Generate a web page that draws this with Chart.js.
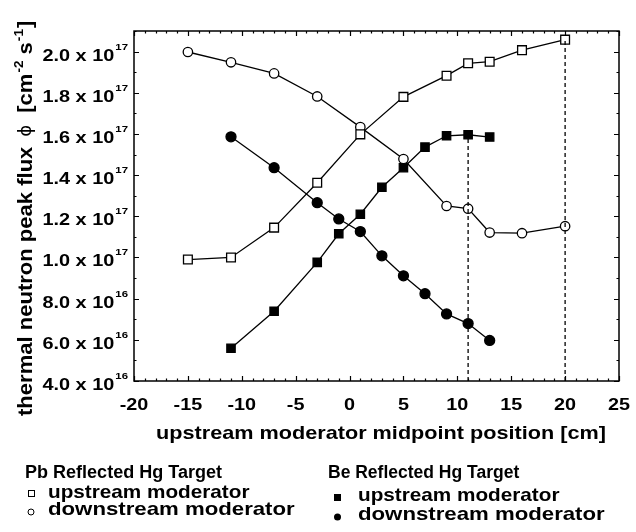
<!DOCTYPE html>
<html>
<head>
<meta charset="utf-8">
<title>thermal neutron peak flux</title>
<script src="https://cdn.jsdelivr.net/npm/chart.js@4.4.1/dist/chart.umd.min.js"></script>
<style>
  body { margin: 0; background: #fff; }
  #wrap { width: 636px; height: 532px; }
</style>
</head>
<body>
<div id="wrap"><canvas id="fluxChart" width="636" height="532"></canvas></div>
<script>
// upstream moderator midpoint position [cm]
const pbPositions = [-15, -11, -7, -3, 1, 5, 9, 11, 13, 16, 20];
const bePositions = [-11, -7, -3, -1, 1, 3, 5, 7, 9, 11, 13];

// thermal neutron peak flux [cm^-2 s^-1]
const pbUpstream   = [9.9e16, 1.0e17, 1.145e17, 1.363e17, 1.598e17, 1.78e17, 1.883e17, 1.943e17, 1.951e17, 2.007e17, 2.058e17];
const pbDownstream = [1.998e17, 1.948e17, 1.894e17, 1.782e17, 1.633e17, 1.478e17, 1.25e17, 1.237e17, 1.121e17, 1.118e17, 1.152e17];
const beUpstream   = [5.59e16, 7.39e16, 9.76e16, 1.115e17, 1.21e17, 1.341e17, 1.436e17, 1.536e17, 1.591e17, 1.596e17, 1.585e17];
const beDownstream = [1.586e17, 1.436e17, 1.266e17, 1.187e17, 1.126e17, 1.008e17, 9.11e16, 8.24e16, 7.26e16, 6.79e16, 5.97e16];

// best upstream positions, marked with dashed drop lines
const bestBe = 11;
const bestPb = 20;

const xTicks = [-20, -15, -10, -5, 0, 5, 10, 15, 20, 25];
const yTicks = [4e16, 6e16, 8e16, 1e17, 1.2e17, 1.4e17, 1.6e17, 1.8e17, 2e17];
const xMin = -20, xMax = 25;
const yMin = 4e16, yMax = 2.1e17;

const FONT = '"Liberation Sans", Arial, Helvetica, sans-serif';
const SX = 1.2; // the lettering is set wide

function pts(xs, ys) {
  return xs.map((x, i) => ({ x: x, y: ys[i] }));
}

function dropLine(x, xs, ys) {
  return [{ x: x, y: yMin }, { x: x, y: ys[xs.indexOf(x)] }];
}

function wideText(ctx, str, x, y, align, sx) {
  sx = sx || SX;
  const w = ctx.measureText(str).width * sx;
  const left = align === 'center' ? x - w / 2 : align === 'right' ? x - w : x;
  ctx.save();
  ctx.translate(left, y);
  ctx.scale(sx, 1);
  ctx.textAlign = 'left';
  ctx.fillText(str, 0, 0);
  ctx.restore();
  return w;
}

// frame, inward ticks, tick labels, axis titles and the two-block legend
const decorations = {
  id: 'decorations',
  afterDatasetsDraw(chart) {
    const ctx = chart.ctx;
    const a = chart.chartArea;
    const xs = chart.scales.x, ys = chart.scales.y;
    ctx.save();
    ctx.strokeStyle = '#000';
    ctx.fillStyle = '#000';
    ctx.lineWidth = 1.5;
    ctx.strokeRect(a.left, a.top, a.right - a.left, a.bottom - a.top);

    ctx.lineWidth = 1.2;
    ctx.beginPath();
    for (let v = xMin; v <= xMax; v++) {
      const px = Math.round(xs.getPixelForValue(v)) + 0.5;
      const len = v % 5 === 0 ? 5 : 2.5;
      ctx.moveTo(px, a.bottom); ctx.lineTo(px, a.bottom - len);
      ctx.moveTo(px, a.top); ctx.lineTo(px, a.top + len);
    }
    for (let v = 4; v <= 21; v++) {
      const py = Math.round(ys.getPixelForValue(v * 1e16)) + 0.5;
      const len = v % 2 === 0 ? 5 : 2.5;
      ctx.moveTo(a.left, py); ctx.lineTo(a.left + len, py);
      ctx.moveTo(a.right, py); ctx.lineTo(a.right - len, py);
    }
    ctx.stroke();

    // x tick labels
    ctx.font = 'bold 16.5px ' + FONT;
    ctx.textBaseline = 'alphabetic';
    xTicks.forEach(v => {
      wideText(ctx, String(v), xs.getPixelForValue(v), 410, 'center');
    });

    // y tick labels, "m.m x 10^e"
    yTicks.forEach(v => {
      const e = Math.floor(Math.log10(v) + 1e-9);
      const m = (v / Math.pow(10, e)).toFixed(1);
      const py = ys.getPixelForValue(v);
      ctx.font = 'bold 9.5px ' + FONT;
      const supW = ctx.measureText(String(e)).width * SX;
      wideText(ctx, String(e), 128, py - 2, 'right');
      ctx.font = 'bold 17px ' + FONT;
      wideText(ctx, m + ' x 10', 128 - supW - 1, py + 9, 'right', 1.17);
    });

    // x axis title
    ctx.font = 'bold 18.5px ' + FONT;
    wideText(ctx, 'upstream moderator midpoint position [cm]', 381, 439, 'center', 1.17);

    // y axis title, rotated
    ctx.save();
    ctx.translate(32, 416);
    ctx.rotate(-Math.PI / 2);
    let cx = 0;
    const ySX = 1.13;
    ctx.font = 'bold 19.5px ' + FONT;
    cx += wideText(ctx, 'thermal neutron peak flux', cx, 0, 'left', ySX);
    cx += 10;
    ctx.font = '18px "DejaVu Sans", sans-serif';
    cx += wideText(ctx, '\u03D5', cx, -1, 'left', 1);
    cx += 12;
    ctx.font = 'bold 19.5px ' + FONT;
    cx += wideText(ctx, '[cm', cx, 0, 'left', ySX);
    ctx.font = 'bold 12px ' + FONT;
    cx += wideText(ctx, '-2', cx + 1, -9, 'left', ySX) + 1;
    ctx.font = 'bold 19.5px ' + FONT;
    cx += wideText(ctx, ' s', cx, 0, 'left', ySX);
    ctx.font = 'bold 12px ' + FONT;
    cx += wideText(ctx, '-1', cx + 1, -9, 'left', ySX) + 2;
    ctx.font = 'bold 19.5px ' + FONT;
    wideText(ctx, ']', cx, 0, 'left', ySX);
    ctx.restore();

    // legend
    ctx.font = 'bold 17.5px ' + FONT;
    wideText(ctx, 'Pb Reflected Hg Target', 25, 478, 'left', 1.03);
    wideText(ctx, 'Be Reflected Hg Target', 328, 478, 'left', 1.0);
    ctx.font = 'bold 18.5px ' + FONT;
    wideText(ctx, 'upstream moderator', 48, 498, 'left', 1.12);
    wideText(ctx, 'downstream moderator', 48, 515, 'left', 1.2);
    wideText(ctx, 'upstream moderator', 358, 501, 'left', 1.12);
    wideText(ctx, 'downstream moderator', 358, 520, 'left', 1.2);

    ctx.lineWidth = 1;
    ctx.fillStyle = '#fff';
    ctx.fillRect(28, 490, 6, 6);
    ctx.strokeRect(28.5, 490.5, 6, 6);
    ctx.beginPath();
    ctx.arc(31, 512, 3, 0, Math.PI * 2);
    ctx.fill(); ctx.stroke();
    ctx.fillStyle = '#000';
    ctx.fillRect(334, 494, 7, 7);
    ctx.beginPath();
    ctx.arc(337.5, 517, 3.5, 0, Math.PI * 2);
    ctx.fill();
    ctx.restore();
  }
};

const lineBase = {
  borderColor: '#000',
  borderWidth: 1.3,
  pointBorderColor: '#000',
  pointBorderWidth: 1.3,
  tension: 0,
  fill: false
};

const data = {
  datasets: [
    { label: 'drop Be', data: dropLine(bestBe, bePositions, beUpstream), borderColor: '#000', borderWidth: 1.3, borderDash: [4, 3], pointRadius: 0 },
    { label: 'drop Pb', data: dropLine(bestPb, pbPositions, pbUpstream), borderColor: '#000', borderWidth: 1.3, borderDash: [4, 3], pointRadius: 0 },
    Object.assign({ label: 'Pb upstream moderator', data: pts(pbPositions, pbUpstream), pointStyle: 'rect', pointRadius: 6.2, pointBackgroundColor: '#fff' }, lineBase),
    Object.assign({ label: 'Pb downstream moderator', data: pts(pbPositions, pbDownstream), pointStyle: 'circle', pointRadius: 4.7, pointBackgroundColor: '#fff' }, lineBase),
    Object.assign({ label: 'Be upstream moderator', data: pts(bePositions, beUpstream), pointStyle: 'rect', pointRadius: 5.9, pointBackgroundColor: '#000' }, lineBase),
    Object.assign({ label: 'Be downstream moderator', data: pts(bePositions, beDownstream), pointStyle: 'circle', pointRadius: 5, pointBackgroundColor: '#000' }, lineBase)
  ]
};

const config = {
  type: 'line',
  data: data,
  options: {
    responsive: false,
    animation: false,
    layout: { padding: { left: 134, top: 31, right: 17, bottom: 151 } },
    scales: {
      x: { type: 'linear', min: xMin, max: xMax, display: false },
      y: { type: 'linear', min: yMin, max: yMax, display: false }
    },
    plugins: {
      legend: { display: false },
      tooltip: { enabled: false }
    }
  },
  plugins: [decorations]
};

const fluxChart = new Chart(document.getElementById('fluxChart'), config);
</script>
</body>
</html>
